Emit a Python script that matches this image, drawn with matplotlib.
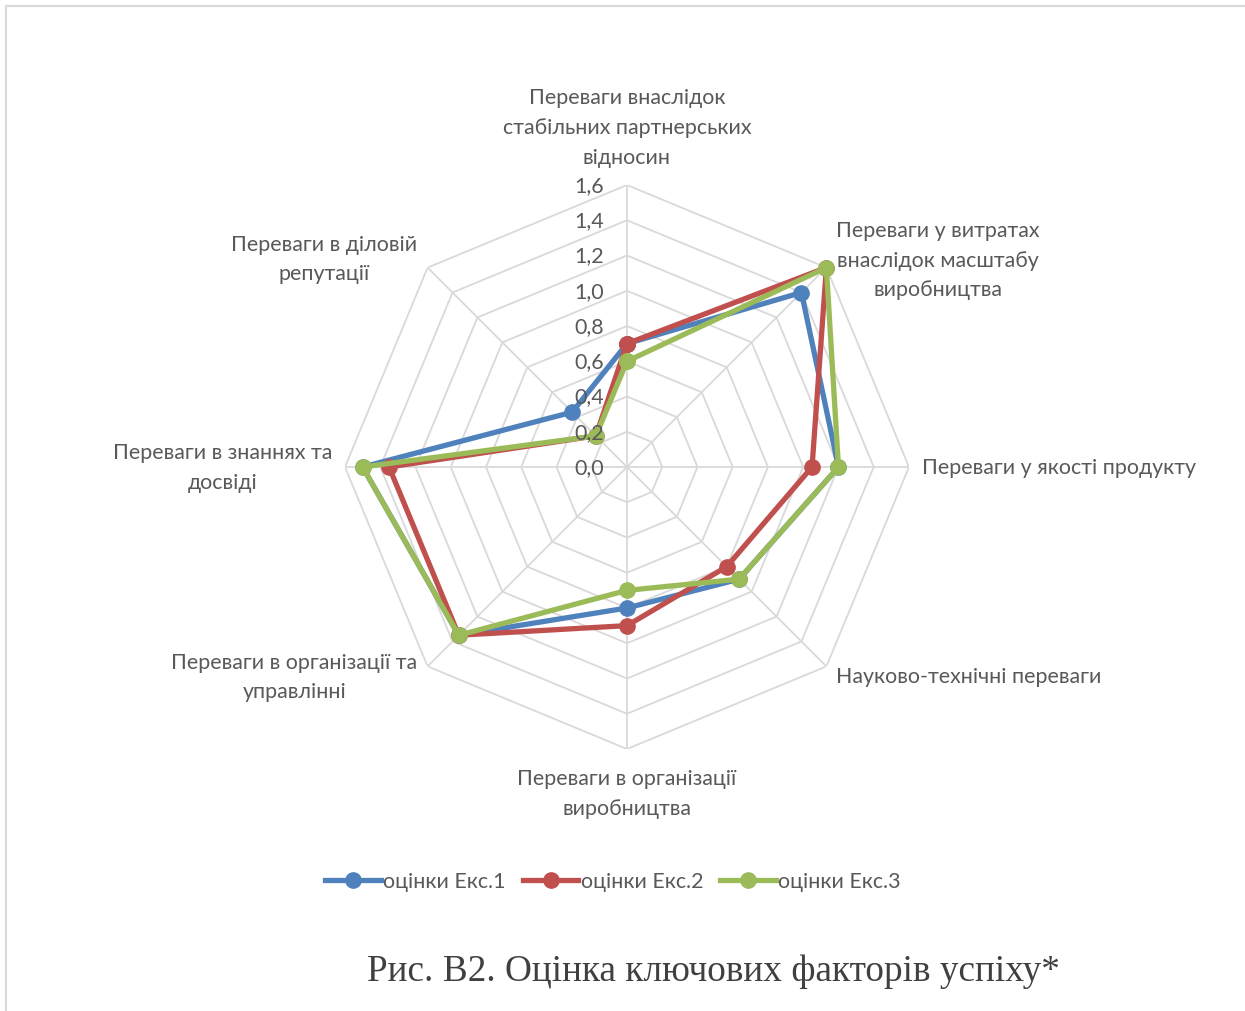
import numpy as np
import matplotlib.pyplot as plt

plt.rcParams['font.family'] = ['Lato', 'DejaVu Sans']

# категорії (за годинниковою стрілкою від верху)
categories = [
    'Переваги внаслідок\nстабільних партнерських\nвідносин',
    'Переваги у витратах\nвнаслідок масштабу\nвиробництва',
    'Переваги у якості продукту',
    'Науково-технічні переваги',
    'Переваги в організації\nвиробництва',
    'Переваги в організації та\nуправлінні',
    'Переваги в знаннях та\nдосвіді',
    'Переваги в діловій\nрепутації',
]
eks1 = [0.70, 1.40, 1.20, 0.90, 0.80, 1.35, 1.50, 0.44]
eks2 = [0.70, 1.60, 1.05, 0.80, 0.90, 1.35, 1.35, 0.25]
eks3 = [0.60, 1.60, 1.20, 0.90, 0.70, 1.35, 1.50, 0.25]
series_names = ['оцінки Екс.1', 'оцінки Екс.2', 'оцінки Екс.3']
colors = ['#4F81BD', '#C0504D', '#9BBB59']
ticks = [0.0, 0.2, 0.4, 0.6, 0.8, 1.0, 1.2, 1.4, 1.6]

text_color = '#595959'
grid_color = '#D9D9D9'
fs = 15.4

n = len(categories)
angles = np.arange(n) * 2 * np.pi / n
closed = np.append(angles, angles[0])

fig = plt.figure(figsize=(12.45, 10.12), dpi=100)
ax = fig.add_axes([0.2771, 0.2589, 0.4530, 0.5573], polar=True)
ax.set_theta_offset(np.pi / 2)
ax.set_theta_direction(-1)
ax.set_ylim(0, 1.6)
ax.axis('off')

# сітка у вигляді восьмикутників
for t in ticks[1:]:
    ax.plot(closed, [t] * (n + 1), color=grid_color, lw=1.3, zorder=1)
for a in angles:
    ax.plot([a, a], [0, 1.6], color=grid_color, lw=1.3, zorder=1)

# підписи шкали
for t in ticks:
    ax.annotate(f'{t:.1f}'.replace('.', ','), xy=(0, t), xytext=(-23, 0),
                textcoords='offset pixels', ha='right', va='center',
                fontsize=fs, color=text_color, zorder=5)

# підписи категорій
offsets = [(0, 58, 'center'), (10, 8, 'left'), (13, 0, 'left'), (10, -10, 'left'),
           (0, -44, 'center'), (-10, -10, 'right'), (-13, 0, 'right'), (-10, 9, 'right')]
for a, lab, (dx, dy, ha) in zip(angles, categories, offsets):
    ax.annotate(lab, xy=(a, 1.6), xytext=(dx, dy), textcoords='offset pixels',
                ha=ha, va='center', multialignment='center', linespacing=1.6,
                fontsize=fs, color=text_color, annotation_clip=False)

# ряди даних
for vals, name, c in zip([eks1, eks2, eks3], series_names, colors):
    v = np.append(vals, vals[0])
    ax.plot(closed, v, color=c, lw=3.8, marker='o', markersize=11,
            label=name, zorder=3, clip_on=False)

leg = fig.legend(loc='center', bbox_to_anchor=(613 / 1245, 1 - 882 / 1012), ncol=3,
                 frameon=False, fontsize=fs, handlelength=2.6, handletextpad=0.1,
                 columnspacing=0.8)
for t in leg.get_texts():
    t.set_color(text_color)

# рамка
fig.add_artist(plt.Line2D([6 / 1245, 1], [1 - 7 / 1012, 1 - 7 / 1012],
                          transform=fig.transFigure, color='#D9D9D9', lw=1.5))
fig.add_artist(plt.Line2D([6 / 1245, 6 / 1245], [0, 1 - 7 / 1012],
                          transform=fig.transFigure, color='#D9D9D9', lw=1.5))

fig.text(713 / 1245, 1 - 972 / 1012, 'Рис. В2. Оцінка ключових факторів успіху*',
         ha='center', va='center', fontsize=26.8, color='#404040',
         family='Liberation Serif')

fig.savefig('out.png', dpi=100)
